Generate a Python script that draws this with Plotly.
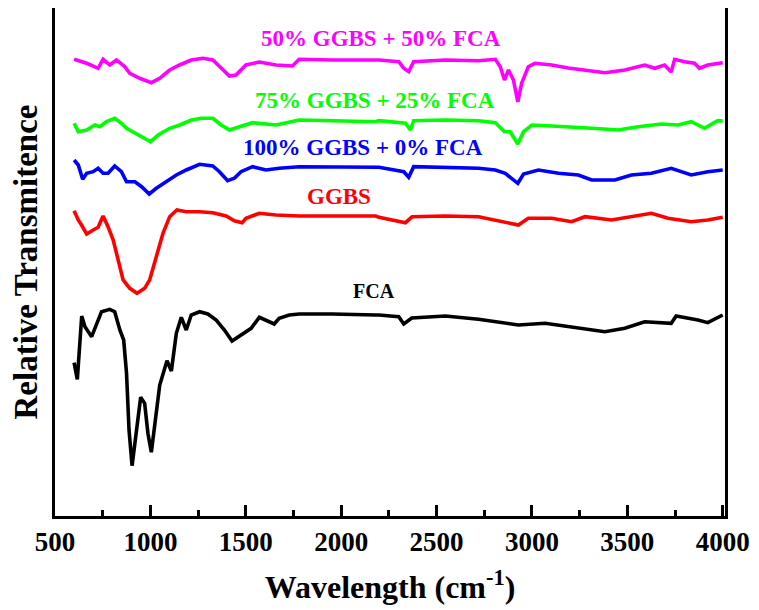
import plotly.graph_objects as go

# Wavenumber (cm-1) and relative transmittance (arbitrary units, offset stacked)
fca_w = [600, 617, 640, 657, 692, 718, 744, 787, 813, 840, 860, 875, 888, 904, 927, 949, 970, 987,
         1005, 1022, 1049, 1087, 1110, 1136, 1162, 1188, 1214, 1258, 1301, 1345, 1388, 1428, 1475,
         1528, 1571, 1606, 1649, 1675, 1728, 1780, 1952, 2181, 2198, 2302, 2328, 2370, 2546, 2720,
         2860, 2929, 3069, 3208, 3382, 3487, 3591, 3730, 3756, 3870, 3922, 4000]
fca_t = [153.3, 136.7, 200, 189.3, 179.3, 192.7, 204.3, 206.7, 204.3, 186, 176, 142.7, 86, 50.3, 86,
         118.7, 112.7, 82.7, 63.7, 92.7, 131, 155.3, 145, 182.7, 198.7, 186, 201, 204.3, 202, 196, 186,
         175, 181, 187.7, 198.7, 195.3, 192, 197.7, 201, 202, 202, 201, 201, 199.3, 192, 198, 200,
         196.7, 193.3, 191, 192.7, 189.3, 184.3, 187.7, 194.3, 192.7, 200, 196, 193.3, 201]

ggbs_w = [600, 622, 639, 666, 700, 726, 752, 778, 805, 831, 857, 892, 930, 970, 996, 1031, 1066, 1101,
          1139, 1188, 1258, 1327, 1397, 1440, 1481, 1501, 1571, 1658, 1780, 1952, 2181, 2198, 2337,
          2372, 2546, 2720, 2929, 2981, 3103, 3208, 3278, 3417, 3521, 3626, 3713, 3835, 3922, 4000]
ggbs_t = [305.3, 296, 291, 282, 286, 288.7, 300, 289.3, 276, 256, 236, 227.7, 222.7, 227.7, 236, 259.3,
          282.7, 299.3, 306, 304.3, 304.3, 303.3, 300, 295.3, 293.3, 297.7, 302.7, 301, 300, 300, 300,
          298.7, 293.3, 299.3, 300, 299.3, 291, 297.7, 297.7, 294.3, 299.3, 296, 299.3, 302.7, 297.7,
          294.3, 296, 298.7]

g100_w = [600, 622, 645, 666, 700, 726, 752, 778, 813, 848, 875, 919, 954, 994, 1031, 1084, 1136, 1188,
          1258, 1327, 1362, 1405, 1440, 1475, 1536, 1606, 1675, 1780, 1952, 2181, 2198, 2328, 2354,
          2380, 2546, 2720, 2808, 2860, 2926, 2956, 3034, 3139, 3243, 3313, 3435, 3521, 3626, 3730,
          3835, 3922, 4000]
g100_t = [356, 351, 336.7, 342.7, 344.3, 347.7, 342.7, 342.7, 350, 344.3, 334.3, 334.3, 329.3, 322,
          327.7, 334.3, 341, 346, 351.7, 350, 344.3, 335.3, 337.7, 344.3, 349.3, 346, 347.7, 349.3,
          349.3, 349.3, 348.7, 344.3, 338.7, 349.3, 348.7, 347.7, 346, 342.7, 332.7, 342, 346, 342.7,
          341, 336, 336, 341, 342.7, 347.7, 341, 344.3, 346]

g75_w = [600, 622, 666, 709, 735, 770, 813, 848, 875, 909, 962, 1001, 1041, 1101, 1154, 1214, 1267,
         1327, 1371, 1414, 1467, 1536, 1658, 1780, 1954, 2181, 2198, 2337, 2363, 2380, 2546, 2720,
         2808, 2856, 2886, 2926, 2956, 3000, 3103, 3208, 3313, 3452, 3556, 3678, 3765, 3835, 3904,
         3974, 4000]
g75_t = [392.7, 384.3, 386, 391, 389.3, 394.3, 397.7, 392.7, 387.7, 384.3, 378.7, 374.3, 381, 387.7,
         391, 396, 397.7, 397.7, 391, 386, 389.3, 393.3, 391, 396, 395.3, 394.3, 395.3, 392.7, 386,
         395.3, 396, 395.3, 393.3, 384.3, 384.3, 372, 384.3, 391, 390, 389.3, 387.7, 386, 389.3, 392,
         391, 394.3, 387.7, 395.3, 395]

g50_w = [600, 666, 726, 752, 787, 822, 866, 892, 944, 1005, 1049, 1101, 1153, 1214, 1275, 1327, 1371,
         1414, 1449, 1501, 1571, 1658, 1745, 1780, 1954, 2181, 2198, 2302, 2328, 2354, 2380, 2546,
         2720, 2808, 2834, 2856, 2877, 2903, 2926, 2946, 2981, 3016, 3103, 3190, 3278, 3382, 3487,
         3591, 3643, 3695, 3730, 3748, 3800, 3852, 3878, 3922, 4000]
g50_t = [456.7, 452.7, 447.7, 456.7, 451, 456, 449.3, 442.7, 437.7, 433.3, 437.7, 446, 451, 456, 457.7,
         456, 448, 440, 441, 451, 454, 451, 450, 456.7, 456, 455.3, 456, 454.3, 447.7, 444.3, 454.3,
         456, 455.3, 456.7, 449.3, 436, 446, 436, 414, 432.7, 449.3, 452.7, 451, 448, 446, 443.3, 446,
         451, 447.7, 451, 444, 456.7, 454.3, 452.7, 447.7, 451, 453.3]

series = [
    ("FCA", fca_w, fca_t, "#000000"),
    ("GGBS", ggbs_w, ggbs_t, "#ff0000"),
    ("100% GGBS + 0% FCA", g100_w, g100_t, "#0000ff"),
    ("75% GGBS + 25% FCA", g75_w, g75_t, "#00ff00"),
    ("50% GGBS + 50% FCA", g50_w, g50_t, "#ff00ff"),
]

# label positions (wavenumber, transmittance) and font sizes
label_x = [2172, 1989, 2114, 2175, 2208]
label_y = [225, 320, 369, 416, 478]
label_size = [20, 23, 23, 23, 23]

fig = go.Figure()
for (name, w, t, c) in series:
    fig.add_trace(go.Scatter(x=w, y=t, mode="lines", name=name,
                             line=dict(color=c, width=3.6)))

for (name, w, t, c), lx, ly, ls in zip(series, label_x, label_y, label_size):
    fig.add_annotation(x=lx, y=ly, text=name, showarrow=False,
                       font=dict(family="Liberation Serif", size=ls, color=c, weight="bold"))

# the page body has an 8px default margin, so the figure is sized 8px smaller
fig.update_layout(
    width=751, height=602,
    margin=dict(l=47, r=34, t=0, b=94),
    paper_bgcolor="white", plot_bgcolor="white",
    showlegend=False,
    font=dict(family="Liberation Serif", color="black", weight="bold"),
)
fig.update_xaxes(
    range=[500, 4012], tickvals=[500, 1000, 1500, 2000, 2500, 3000, 3500, 4000],
    automargin=False,
    showline=True, linecolor="black", linewidth=3, mirror=True,
    ticks="inside", ticklen=11, tickwidth=3, tickcolor="black",
    minor=dict(ticks="inside", ticklen=6, tickwidth=3, tickcolor="black", dtick=250, tick0=500),
    showgrid=False, zeroline=False,
    tickfont=dict(family="Liberation Serif", size=27, color="black", weight="bold"),
    ticklabelstandoff=0,
    title=dict(text="Wavelength (cm<sup>-1</sup>)", standoff=20,
               font=dict(family="Liberation Serif", size=32, color="black", weight="bold")),
)
fig.update_yaxes(
    range=[0, 508], automargin=False,
    showline=True, linecolor="black", linewidth=3, mirror=True,
    ticks="", showticklabels=False, showgrid=False, zeroline=False,
    title=dict(text="Relative Transmitence", standoff=5,
               font=dict(family="Liberation Serif", size=33, color="black", weight="bold")),
)

fig.write_html("out.html")
